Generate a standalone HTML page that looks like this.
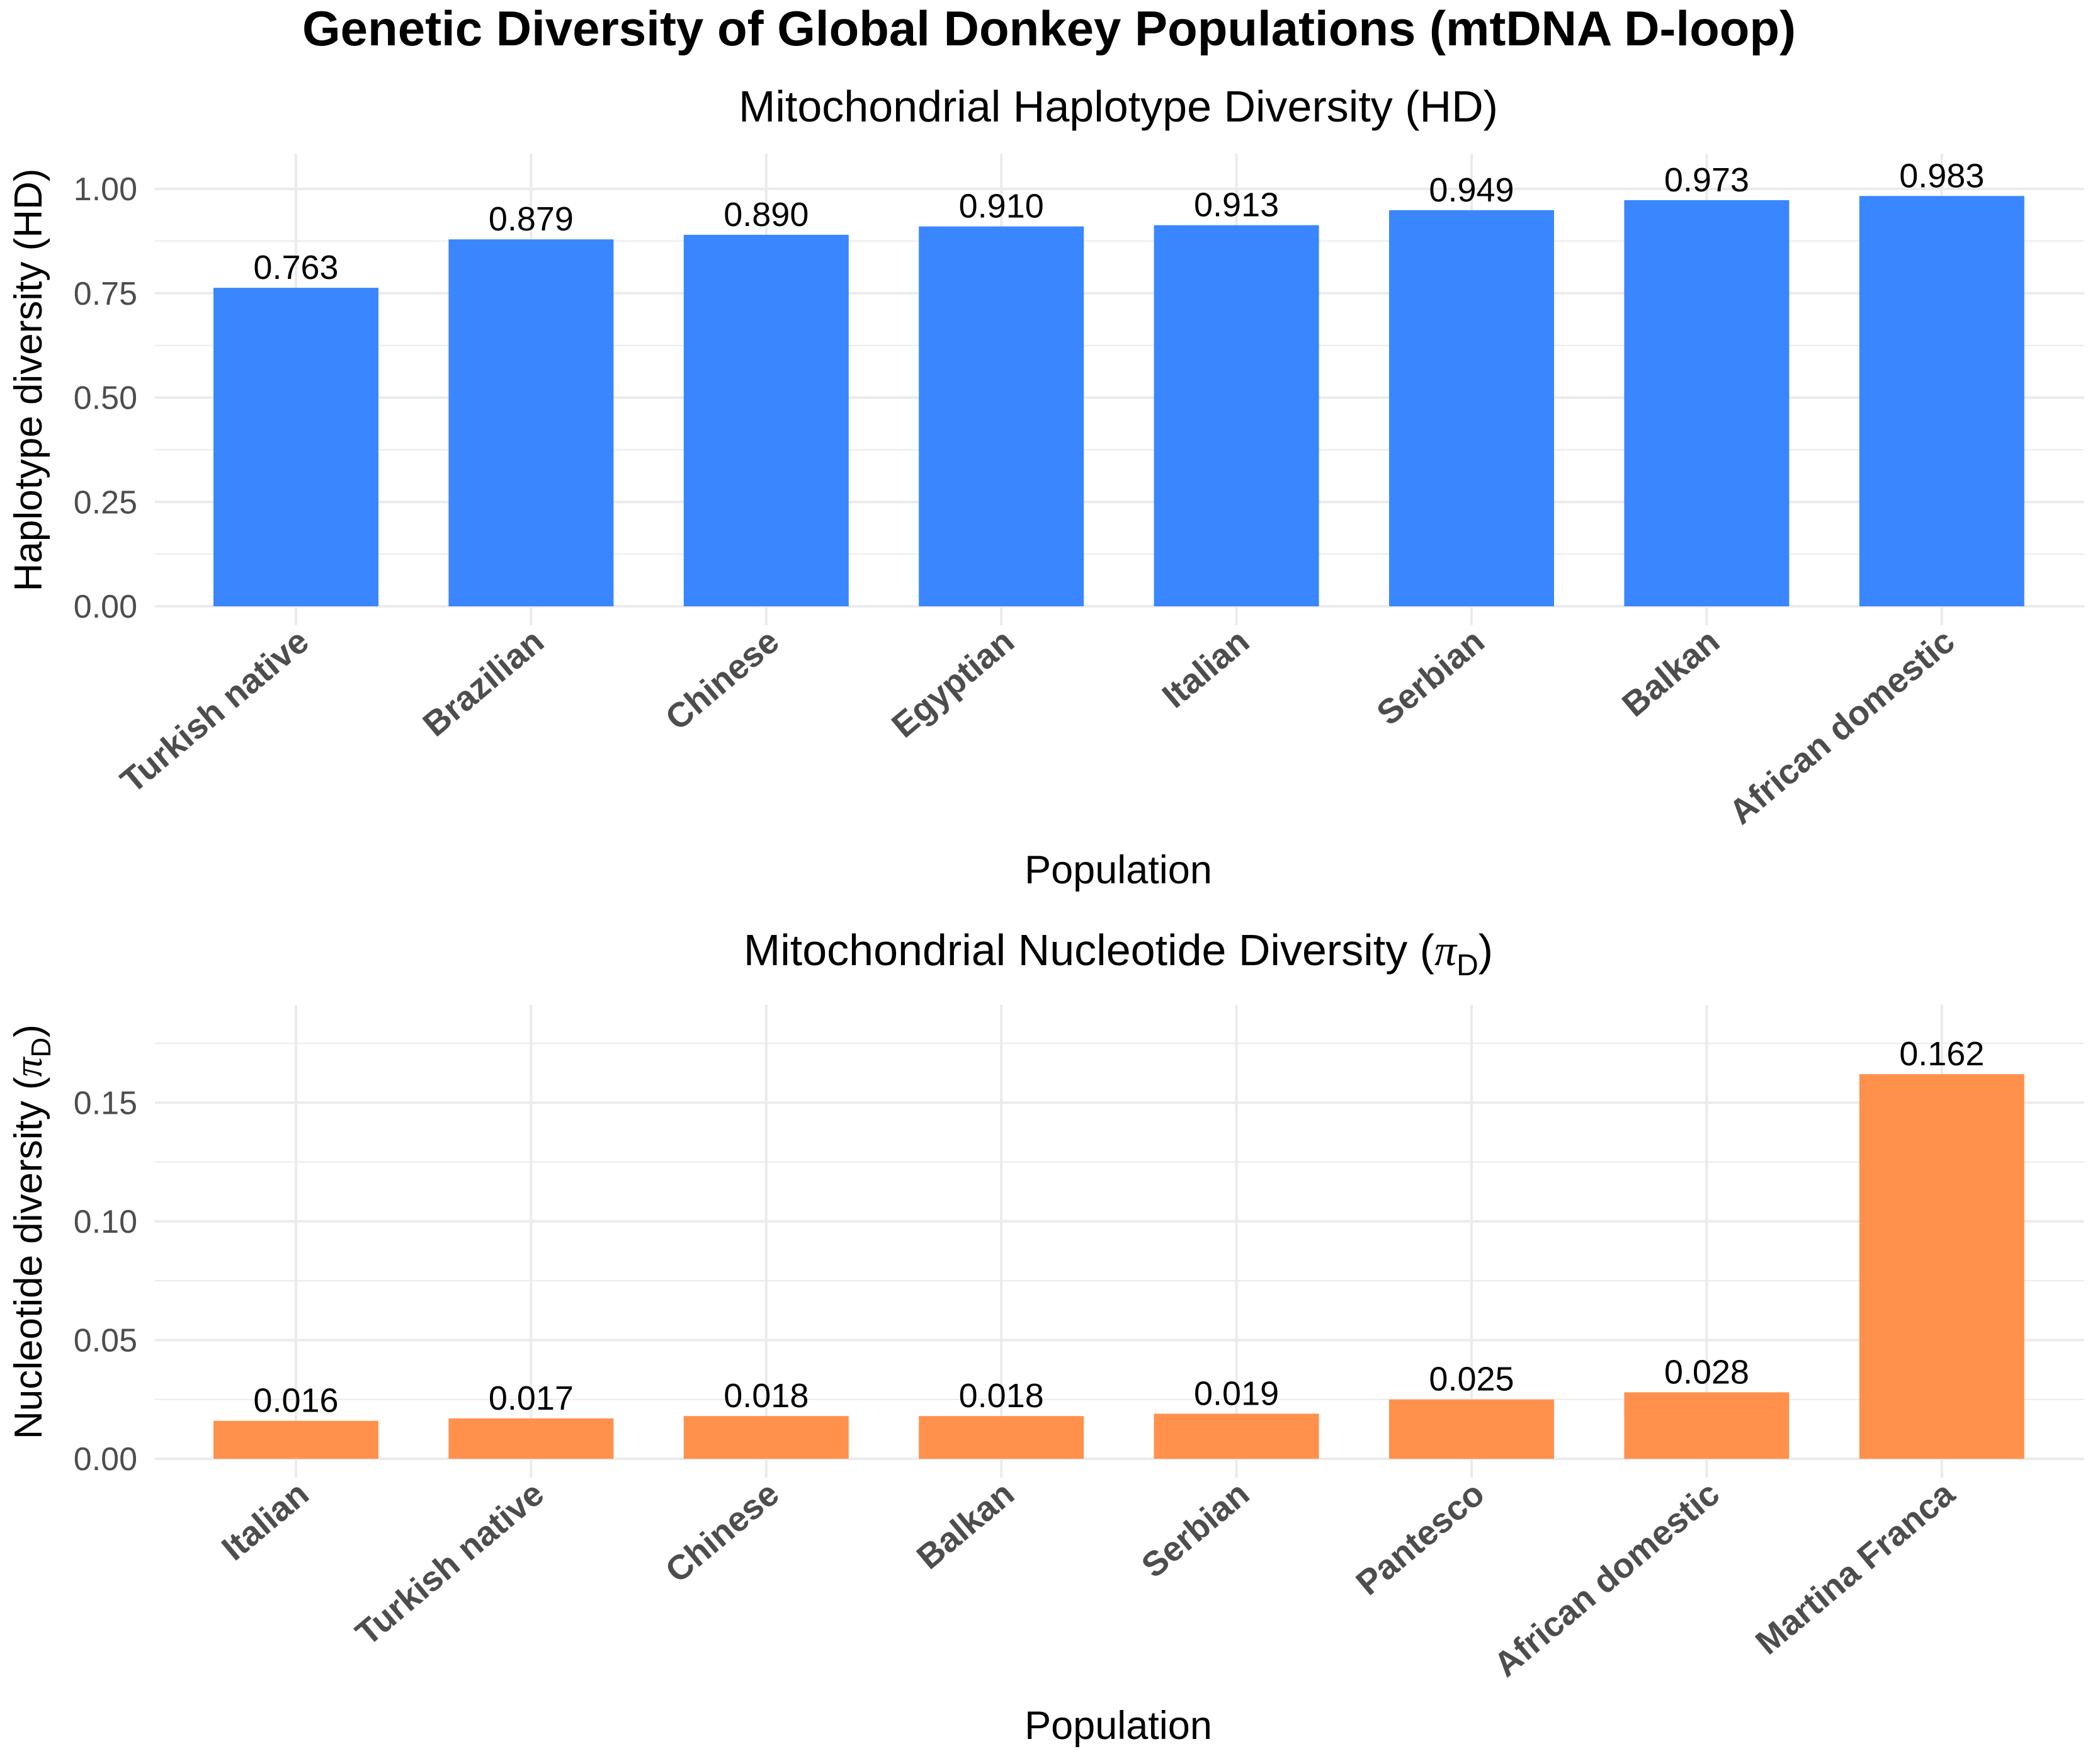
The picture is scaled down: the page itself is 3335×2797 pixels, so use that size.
<!DOCTYPE html>
<html><head><meta charset="utf-8">
<style>
html,body{margin:0;padding:0;background:#fff;}
svg{display:block;font-family:"Liberation Sans",Arial,sans-serif;}
</style></head>
<body>
<svg id="chart" width="3335" height="2797" viewBox="0 0 3335 2797" xmlns="http://www.w3.org/2000/svg">
<text x="1666" y="72" text-anchor="middle" font-size="78" font-weight="bold" fill="#000">Genetic Diversity of Global Donkey Populations (mtDNA D-loop)</text>
<text x="1776" y="193" text-anchor="middle" font-size="70" fill="#000">Mitochondrial Haplotype Diversity (HD)</text>
<text x="1776" y="1533" text-anchor="middle" font-size="70" fill="#000">Mitochondrial Nucleotide Diversity (<tspan font-style="italic" font-family="Liberation Serif, serif">π</tspan><tspan font-size="48" dy="16">D</tspan><tspan dy="-16">)</tspan></text>
<g id="p1"></g>
<g id="p2"></g>
</svg>
<script>
const hdCategories = ["Turkish native","Brazilian","Chinese","Egyptian","Italian","Serbian","Balkan","African domestic"];
const hdValues = [0.763,0.879,0.890,0.910,0.913,0.949,0.973,0.983];
const hdTicks = [0,0.25,0.5,0.75,1.0];
const hdTickLabels = ["0.00","0.25","0.50","0.75","1.00"];
const piCategories = ["Italian","Turkish native","Chinese","Balkan","Serbian","Pantesco","African domestic","Martina Franca"];
const piValues = [0.016,0.017,0.018,0.018,0.019,0.025,0.028,0.162];
const piTicks = [0,0.05,0.10,0.15];
const piTickLabels = ["0.00","0.05","0.10","0.15"];

const NS="http://www.w3.org/2000/svg";
function mk(parent,tag,attrs,text){const e=document.createElementNS(NS,tag);for(const k in attrs)e.setAttribute(k,attrs[k]);if(text!==undefined)e.textContent=text;parent.appendChild(e);return e;}

function panel(g,o){
  const L=246,R=3310,T=o.top,B=o.y0;
  const step=373.4;
  const xs=i=>470+i*step;
  const ys=v=>B-(v/o.ymax)*(B-T);
  for(let i=0;i<o.ticks.length;i++){
    const mv=o.ticks[i]+(o.ticks[1]-o.ticks[0])/2;
    if(mv<=o.ymax){const l=mk(g,'line',{x1:L,x2:R,y1:ys(mv),y2:ys(mv),stroke:'#ebebeb','stroke-width':2});
    
    }
  }
  o.ticks.forEach((t,i)=>{
    const l=mk(g,'line',{x1:L,x2:R,y1:ys(t),y2:ys(t),stroke:'#ebebeb','stroke-width':4});
    
    
    const tx=mk(g,'text',{x:218,y:ys(t)+18,'text-anchor':'end','font-size':52,fill:'#4d4d4d'},o.tickLabels[i]);
    
    
  });
  o.cats.forEach((c,i)=>{
    const l=mk(g,'line',{x1:xs(i),x2:xs(i),y1:T,y2:B+30,stroke:'#ebebeb','stroke-width':4});
    
    
  });
  const bw=262;
  o.cats.forEach((c,i)=>{
    const v=o.vals[i];
    const r=mk(g,'rect',{x:xs(i)-bw/2,y:ys(v),width:bw,height:B-ys(v),fill:o.color});
    
    
    const vl=mk(g,'text',{x:xs(i),y:ys(v)-14,'text-anchor':'middle','font-size':54,fill:'#000'},v.toFixed(3));
    
    
    const ax=xs(i)+24, ay=B+62;
    const xl=mk(g,'text',{x:ax,y:ay,'text-anchor':'end','font-size':55,'font-weight':'bold',fill:'#4d4d4d',transform:`rotate(-40 ${ax} ${ay})`},c);
    
    
  });
  const xt=mk(g,'text',{x:1776,y:o.xtitleY,'text-anchor':'middle','font-size':63,fill:'#000'},'Population');
  
  
  const cy=(T+B)/2;
  const yt=mk(g,'text',{x:66,y:cy,'text-anchor':'middle','font-size':62,fill:'#000',transform:`rotate(-90 66 ${cy})`});
  
  
  if(o.pi){
    yt.appendChild(document.createTextNode('Nucleotide diversity ('));
    mk(yt,'tspan',{'font-style':'italic','font-family':'Liberation Serif, serif'},'π');
    mk(yt,'tspan',{'font-size':44,dy:14},'D');
    mk(yt,'tspan',{dy:-14},')');
  } else yt.textContent='Haplotype diversity (HD)';
}
panel(document.getElementById('p1'),{cats:hdCategories,vals:hdValues,ticks:hdTicks,tickLabels:hdTickLabels,top:244,y0:963,ymax:(963-244)/663,color:'#3a86ff',xtitleY:1403});
panel(document.getElementById('p2'),{cats:piCategories,vals:piValues,ticks:piTicks,tickLabels:piTickLabels,top:1596,y0:2317,ymax:(2317-1596)/3771,color:'#ff914d',xtitleY:2762,pi:true});
</script>
</body></html>
